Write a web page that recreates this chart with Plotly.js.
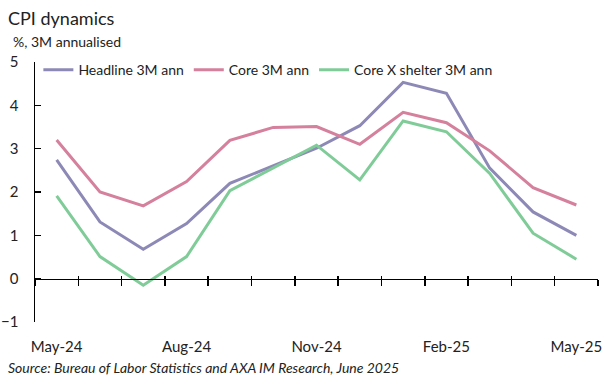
<!DOCTYPE html>
<html>
<head>
<meta charset="utf-8">
<script src="https://cdn.plot.ly/plotly-3.0.1.min.js"></script>
<style>html,body{margin:0;padding:0;background:#fff;}#chart{width:614px;height:379px;}</style>
</head>
<body>
<div id="chart"></div>
<script>
const months = ['May-24','Jun-24','Jul-24','Aug-24','Sep-24','Oct-24','Nov-24','Dec-24','Jan-25','Feb-25','Mar-25','Apr-25','May-25'];
const tickLabels = ['May-24','Aug-24','Nov-24','Feb-25','May-25'];
const headline = [2.74, 1.31, 0.68, 1.27, 2.20, 2.60, 3.01, 3.53, 4.53, 4.28, 2.55, 1.54, 1.00];
const core = [3.20, 2.00, 1.68, 2.24, 3.19, 3.49, 3.51, 3.10, 3.84, 3.60, 2.95, 2.10, 1.70];
const coreXShelter = [1.91, 0.51, -0.15, 0.51, 2.03, 2.55, 3.08, 2.28, 3.64, 3.39, 2.43, 1.05, 0.45];
const seriesNames = ['Headline 3M ann', 'Core 3M ann', 'Core X shelter 3M ann'];
const colors = ['#8D89B6', '#D5809C', '#80CC98'];

const FONT = 'Lato, "Liberation Sans", sans-serif';
const data = [headline, core, coreXShelter].map((ys, i) => ({
  type: 'scatter', mode: 'lines', x: months, y: ys, name: seriesNames[i],
  line: {color: colors[i], width: 3}, xaxis: 'x', yaxis: 'y'
}));
// invisible helper traces so the crossing axes at y=0 are drawn
data.push({type:'scatter', mode:'none', x: months, y: headline, xaxis:'x2', yaxis:'y', showlegend:false, hoverinfo:'skip'});
data.push({type:'scatter', mode:'none', x: months, y: headline, xaxis:'x3', yaxis:'y', showlegend:false, hoverinfo:'skip'});

const zeroAxis = (ticks, len) => ({
  type:'category', categoryorder:'array', categoryarray: months,
  range:[-0.5, 12.5], overlaying:'x', anchor:'free', position: 1/6,
  showline:true, linecolor:'#000', linewidth:1.5,
  ticks: ticks, ticklen: len, tickwidth:1.5, tickcolor:'#000', tickson:'boundaries',
  showticklabels:false, showgrid:false, zeroline:false
});

const layout = {
  width:614, height:379,
  margin:{l:35, r:16, t:62, b:57},
  paper_bgcolor:'#fff', plot_bgcolor:'#fff',
  font:{family:FONT, size:15, color:'#222'},
  showlegend:true,
  legend:{orientation:'h', x:0.006, y:1.03, xanchor:'left', yanchor:'top',
    font:{family:FONT, size:14, color:'#222'}, bgcolor:'rgba(0,0,0,0)', itemwidth:30, tracegroupgap:0},
  xaxis:{type:'category', categoryorder:'array', categoryarray: months, range:[-0.5, 12.5],
    tickmode:'array', tickvals: tickLabels, ticktext: tickLabels,
    showline:false, ticks:'', showgrid:false, zeroline:false,
    tickfont:{family:FONT, size:15, color:'#222'}, ticklabelstandoff: 14},
  xaxis2: zeroAxis('outside', 6),
  xaxis3: zeroAxis('inside', 3),
  yaxis:{range:[-1,5], dtick:1, tick0:0, showline:true, linecolor:'#000', linewidth:1.5,
    ticks:'inside', ticklen:6, tickwidth:1.5, tickcolor:'#000', showgrid:false, zeroline:false,
    tickfont:{family:FONT, size:15, color:'#222'}, ticklabelstandoff: 12},
  annotations:[
    {text:'CPI dynamics', xref:'paper', yref:'paper', x:-0.052, y:1.169, xanchor:'left', yanchor:'middle',
      showarrow:false, font:{family:FONT, size:18, color:'#222'}},
    {text:'%, 3M annualised', xref:'paper', yref:'paper', x:-0.042, y:1.077, xanchor:'left', yanchor:'middle',
      showarrow:false, font:{family:FONT, size:14, color:'#222'}},
    {text:'<i>Source: Bureau of Labor Statistics and AXA IM Research, June 2025</i>', xref:'paper', yref:'paper',
      x:-0.052, y:-0.175, xanchor:'left', yanchor:'middle', showarrow:false,
      font:{family:FONT, size:14, color:'#222'}}
  ]
};
Plotly.newPlot('chart', data, layout, {displayModeBar:false, staticPlot:true});
</script>
</body>
</html>
